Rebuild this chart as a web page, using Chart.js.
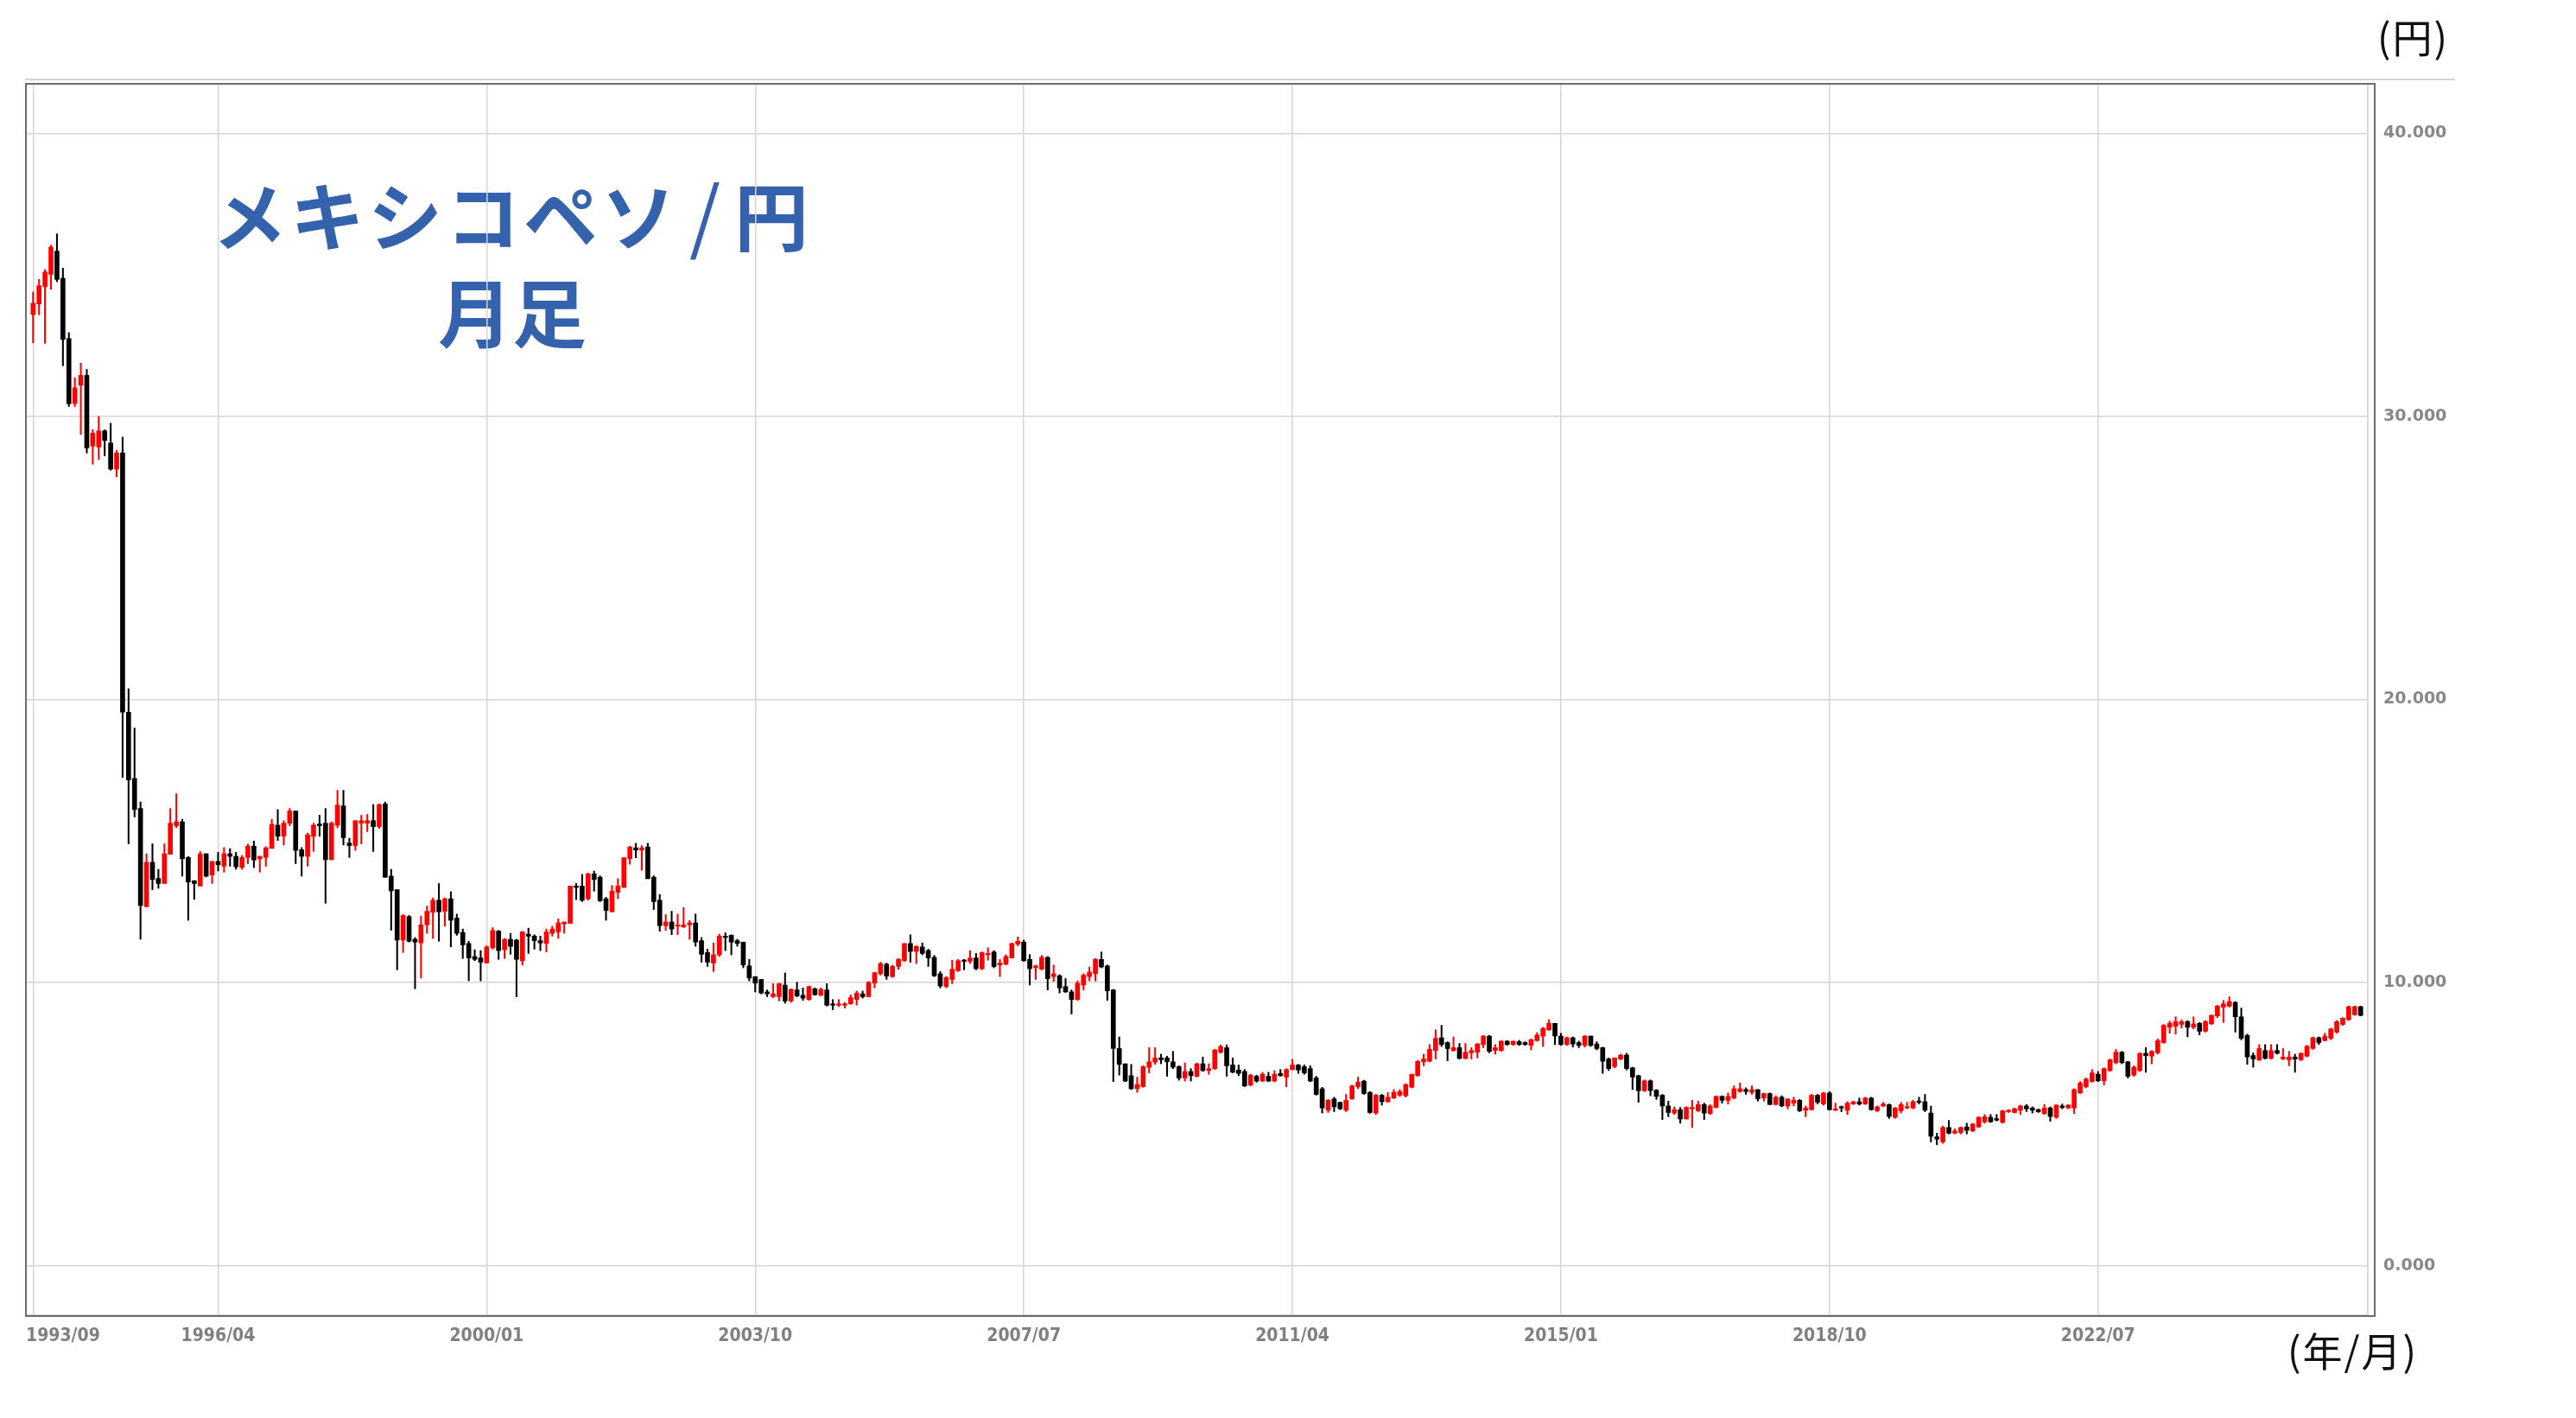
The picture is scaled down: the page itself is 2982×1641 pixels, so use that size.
<!DOCTYPE html>
<html lang="ja">
<head>
<meta charset="utf-8">
<title>メキシコペソ/円 月足</title>
<script src="https://cdn.jsdelivr.net/npm/chart.js@4.4.1/dist/chart.umd.min.js"></script>
<style>
  html, body { margin: 0; padding: 0; background: #fff; }
  #wrap { position: relative; width: 2982px; height: 1641px; overflow: hidden; }
  #wrap canvas { position: absolute; left: 0; top: 0; z-index: 2; }
  .jp { position: absolute; font-family: "Noto Sans CJK JP", sans-serif; white-space: nowrap; }
  #title { z-index: 1; left: 143px; top: 188px; width: 900px; text-align: center; color: #3462ac; font-weight: bold; font-size: 86px; line-height: 112px; }
  #title .l1 { letter-spacing: 4px; }
  #title .sl { font-weight: 400; font-size: 92px; margin: 0 12px; }
  #unitY { z-index: 3; left: 2752px; top: 18px; font-size: 46px; line-height: 46px; letter-spacing: 2px; color: #111; }
  #unitX { z-index: 3; left: 2648px; top: 1538px; font-size: 46px; line-height: 46px; letter-spacing: 2px; color: #111; }
</style>
</head>
<body>
<div id="wrap">
  <div class="jp" id="title"><span class="l1">メキシコペソ<span class="sl">/</span>円</span><br>月足</div>
  <canvas id="c" width="2982" height="1641"></canvas>
  <div class="jp" id="unitY">(円)</div>
  <div class="jp" id="unitX">(年/月)</div>
</div>
<script>
/* メキシコペソ/円 月足ローソク足 (1993/09 - 2026/03) */
(function () {
  "use strict";

  // x軸目盛り: 先頭月(1993/09)からの月数とラベル
  const tickIdx = [0, 31, 76, 121, 166, 211, 256, 301, 346];
  const tickLabels = ["1993/09", "1996/04", "2000/01", "2003/10", "2007/07", "2011/04", "2015/01", "2018/10", "2022/07"];
  const yTicks = [0, 10, 20, 30, 40];

  // 始値・高値・安値・終値 (円)
  const openP = [
    33.6, 33.97, 34.58, 35.02, 35.84, 34.88, 32.75, 30.45, 31.1, 31.45, 28.95, 28.92, 29.49, 29.06, 28.14, 28.71, 19.55, 17.21, 16.15, 12.68,
    14.25, 13.68, 13.5, 14.53, 15.54, 15.68, 14.42, 13.6, 13.41, 14.55, 13.8, 14.28, 14.11, 14.55, 14.46, 14.07, 14.42, 14.82, 14.37, 14.42,
    14.74, 15.56, 15.17, 15.63, 16.06, 14.69, 14.46, 15.16, 15.6, 15.63, 14.34, 15.56, 16.24, 14.93, 14.84, 15.63, 15.63, 15.72, 15.51, 16.31,
    13.76, 13.28, 11.5, 12.33, 11.53, 11.4, 12.04, 12.48, 12.91, 12.52, 12.96, 12.28, 11.77, 11.38, 10.92, 10.87, 10.69, 11.23, 11.82, 11.16,
    11.53, 11.5, 10.77, 11.71, 11.64, 11.48, 11.38, 11.74, 11.79, 12.07, 12.09, 13.41, 13.41, 12.96, 13.84, 13.72, 12.96, 12.5, 13.19, 13.36,
    14.38, 14.76, 14.68, 14.79, 13.72, 12.91, 12.01, 12.14, 11.99, 11.97, 12.04, 12.11, 11.48, 11.06, 10.69, 10.98, 11.64, 11.67, 11.48, 11.43,
    10.59, 10.21, 10.11, 9.67, 9.5, 9.5, 9.91, 9.35, 9.74, 9.55, 9.4, 9.78, 9.55, 9.74, 9.23, 9.2, 9.2, 9.25, 9.4, 9.6,
    9.5, 9.98, 10.31, 10.65, 10.21, 10.57, 10.77, 11.38, 11.1, 11.26, 11.13, 10.89, 10.31, 9.86, 10.11, 10.42, 10.79, 10.75, 10.87, 10.49,
    10.98, 11.08, 10.62, 10.65, 10.87, 11.36, 11.43, 10.82, 10.52, 10.47, 10.89, 10.21, 10.24, 9.86, 9.67, 9.4, 9.91, 10.21, 10.31, 10.82,
    10.59, 9.74, 7.67, 7.13, 6.71, 6.25, 6.32, 7.01, 7.19, 7.34, 7.34, 7.2, 7.03, 6.63, 6.86, 6.69, 7.13, 6.89, 6.96, 7.54,
    7.7, 7.09, 6.91, 6.86, 6.38, 6.69, 6.52, 6.69, 6.52, 6.79, 6.66, 6.93, 7.09, 7.03, 6.96, 6.63, 6.25, 5.49, 5.89, 5.77,
    5.49, 5.89, 6.32, 6.52, 6.12, 5.39, 6.02, 5.79, 5.92, 6.02, 6.0, 6.3, 6.71, 7.2, 7.22, 7.6, 8.05, 7.88, 7.6, 7.7,
    7.32, 7.52, 7.54, 7.81, 8.11, 7.6, 7.6, 7.93, 7.81, 7.91, 7.88, 7.78, 7.95, 8.11, 8.33, 8.56, 8.11, 7.81, 8.05, 7.88,
    7.78, 8.11, 7.83, 7.7, 7.3, 7.03, 7.3, 7.44, 6.99, 6.71, 6.18, 6.53, 6.2, 6.02, 5.64, 5.39, 5.51, 5.18, 5.54, 5.47,
    5.69, 5.37, 5.59, 5.98, 5.84, 5.92, 6.15, 6.22, 6.12, 6.22, 5.92, 6.08, 5.69, 5.95, 5.64, 5.74, 5.84, 5.49, 5.51, 6.02,
    5.71, 6.1, 5.49, 5.59, 5.49, 5.71, 5.79, 5.71, 5.92, 5.47, 5.64, 5.69, 5.24, 5.47, 5.57, 5.57, 5.81, 5.79, 5.39, 4.55,
    4.37, 4.88, 4.68, 4.7, 4.9, 4.76, 4.9, 5.08, 5.24, 5.19, 5.06, 5.44, 5.41, 5.49, 5.64, 5.57, 5.51, 5.37, 5.57, 5.24,
    5.64, 5.57, 5.57, 6.1, 6.32, 6.5, 6.76, 6.53, 6.89, 7.17, 7.54, 7.2, 6.73, 6.89, 7.5, 7.4, 7.52, 7.88, 8.42, 8.46,
    8.52, 8.62, 8.42, 8.56, 8.28, 8.54, 8.82, 9.13, 9.17, 9.3, 8.79, 8.13, 7.42, 7.27, 7.6, 7.32, 7.6, 7.3, 7.27, 7.37,
    7.27, 7.4, 7.67, 8.05, 7.95, 8.03, 8.25, 8.52, 8.69, 8.86, 9.15
  ];
  const highP = [
    34.4, 34.84, 35.19, 36.05, 36.45, 35.24, 32.96, 31.36, 31.88, 31.66, 29.53, 30.0, 29.53, 29.76, 28.8, 29.27, 20.38, 18.99, 16.38, 14.55,
    14.9, 14.0, 14.9, 16.15, 16.67, 15.77, 14.45, 13.6, 14.63, 14.55, 14.28, 14.6, 14.77, 14.73, 14.6, 14.49, 14.89, 15.0, 14.46, 14.8,
    15.77, 16.11, 15.72, 16.15, 16.06, 14.77, 15.28, 15.63, 15.91, 16.15, 15.68, 16.79, 16.79, 15.1, 15.72, 15.91, 15.94, 16.29, 16.31, 16.38,
    14.0, 13.28, 12.4, 12.37, 11.59, 12.35, 12.7, 12.99, 13.5, 12.99, 13.21, 12.42, 11.89, 11.46, 11.16, 11.13, 11.3, 11.94, 11.84, 11.56,
    11.74, 11.53, 11.81, 11.92, 11.69, 11.64, 11.89, 11.99, 12.25, 12.14, 13.41, 13.5, 13.82, 13.87, 13.94, 13.77, 13.01, 13.43, 13.67, 14.41,
    14.82, 14.92, 14.84, 14.92, 13.77, 13.11, 12.4, 12.52, 12.42, 12.65, 12.19, 12.42, 11.59, 11.18, 11.4, 11.71, 11.76, 11.69, 11.53, 11.43,
    10.82, 10.21, 10.11, 9.74, 9.96, 9.98, 10.34, 9.78, 10.01, 9.81, 9.88, 9.81, 9.81, 9.96, 9.4, 9.4, 9.3, 9.57, 9.7, 9.7,
    10.04, 10.37, 10.72, 10.69, 10.62, 10.85, 11.38, 11.69, 11.3, 11.4, 11.18, 10.96, 10.39, 10.21, 10.79, 10.82, 10.82, 11.13, 11.03, 11.08,
    11.23, 11.13, 10.82, 10.98, 11.4, 11.61, 11.5, 10.99, 10.62, 10.96, 10.92, 10.62, 10.28, 10.14, 9.74, 10.06, 10.31, 10.55, 10.85, 11.08,
    10.62, 9.76, 8.08, 7.13, 7.11, 6.66, 7.06, 7.7, 7.7, 7.47, 7.4, 7.57, 7.06, 7.16, 6.96, 7.16, 7.37, 7.13, 7.64, 7.8,
    7.8, 7.34, 7.09, 6.93, 6.76, 6.73, 6.83, 6.83, 6.89, 6.93, 6.96, 7.29, 7.11, 7.09, 7.06, 6.69, 6.3, 5.87, 5.95, 5.77,
    6.05, 6.38, 6.66, 6.55, 6.15, 6.05, 6.05, 6.12, 6.22, 6.22, 6.42, 6.76, 7.24, 7.47, 7.81, 8.33, 8.49, 7.91, 8.08, 7.85,
    7.85, 7.7, 7.85, 8.13, 8.13, 7.81, 7.95, 7.95, 7.93, 7.96, 7.91, 8.01, 8.23, 8.42, 8.69, 8.56, 8.21, 8.08, 8.08, 7.93,
    8.13, 8.11, 7.91, 7.72, 7.34, 7.34, 7.47, 7.5, 7.01, 6.73, 6.56, 6.56, 6.22, 6.05, 5.81, 5.61, 5.59, 5.61, 5.84, 5.81,
    5.74, 5.69, 6.0, 6.0, 6.1, 6.35, 6.45, 6.28, 6.35, 6.22, 6.1, 6.1, 6.0, 6.0, 5.89, 5.95, 5.87, 5.64, 6.05, 6.05,
    6.12, 6.15, 5.74, 5.64, 5.79, 5.81, 5.92, 5.95, 5.95, 5.64, 5.77, 5.71, 5.59, 5.77, 5.77, 5.84, 5.95, 6.05, 5.64, 4.68,
    4.93, 5.13, 4.83, 4.9, 5.03, 5.03, 5.26, 5.34, 5.34, 5.34, 5.49, 5.51, 5.57, 5.67, 5.69, 5.61, 5.54, 5.69, 5.61, 5.69,
    5.71, 5.69, 6.25, 6.5, 6.63, 6.93, 6.86, 6.99, 7.3, 7.64, 7.57, 7.22, 7.06, 7.52, 7.7, 7.6, 8.01, 8.52, 8.64, 8.79,
    8.69, 8.66, 8.79, 8.59, 8.66, 8.86, 9.2, 9.37, 9.5, 9.33, 9.1, 8.18, 7.52, 7.81, 7.81, 7.81, 7.81, 7.67, 7.57, 7.47,
    7.52, 7.78, 8.08, 8.08, 8.21, 8.39, 8.66, 8.76, 9.17, 9.17, 9.17
  ];
  const lowP = [
    32.6, 33.59, 32.58, 34.49, 34.76, 31.79, 30.35, 30.35, 29.36, 28.71, 28.31, 28.48, 28.61, 28.1, 27.87, 17.25, 14.9, 15.85, 11.53, 12.68,
    13.28, 13.33, 13.5, 14.53, 15.47, 13.76, 12.2, 12.94, 13.41, 13.73, 13.5, 13.94, 13.9, 14.11, 14.0, 14.0, 14.2, 14.06, 13.9, 14.11,
    14.74, 15.02, 14.86, 15.54, 14.2, 13.76, 14.11, 14.63, 15.17, 12.8, 14.34, 15.47, 14.86, 14.42, 14.67, 14.9, 15.33, 14.63, 15.45, 13.72,
    11.85, 10.45, 11.06, 11.43, 9.78, 10.16, 11.74, 11.56, 11.46, 11.99, 11.26, 11.67, 10.85, 10.06, 10.77, 10.06, 10.69, 11.18, 10.82, 10.85,
    11.0, 9.5, 10.62, 11.03, 11.18, 11.13, 11.08, 11.64, 11.56, 11.74, 12.09, 12.93, 12.86, 12.91, 13.23, 12.86, 12.2, 12.5, 12.96, 13.36,
    14.18, 14.41, 13.97, 13.67, 12.58, 11.81, 11.84, 11.69, 11.69, 11.94, 11.53, 11.28, 10.72, 10.57, 10.39, 10.92, 11.13, 10.98, 11.28, 10.52,
    10.06, 9.67, 9.6, 9.5, 9.47, 9.35, 9.27, 9.3, 9.5, 9.37, 9.37, 9.55, 9.53, 9.17, 9.04, 9.15, 9.1, 9.23, 9.2, 9.45,
    9.5, 9.81, 10.26, 10.11, 10.18, 10.47, 10.75, 10.72, 10.67, 10.98, 10.57, 10.21, 9.81, 9.81, 9.96, 10.39, 10.45, 10.67, 10.45, 10.45,
    10.79, 10.52, 10.21, 10.62, 10.87, 11.3, 10.75, 9.91, 10.11, 10.45, 9.74, 10.04, 9.63, 9.65, 8.89, 9.37, 9.74, 10.06, 10.06, 10.52,
    9.37, 6.5, 6.73, 6.5, 6.22, 6.12, 6.3, 6.81, 7.11, 7.13, 6.69, 6.96, 6.55, 6.52, 6.52, 6.66, 6.86, 6.76, 6.93, 7.5,
    6.69, 6.81, 6.71, 6.32, 6.35, 6.48, 6.5, 6.5, 6.5, 6.69, 6.32, 6.91, 6.79, 6.76, 6.5, 6.02, 5.39, 5.41, 5.44, 5.51,
    5.44, 5.87, 6.25, 6.05, 5.38, 5.34, 5.67, 5.77, 5.9, 5.98, 5.95, 6.28, 6.69, 7.06, 7.2, 7.3, 7.74, 7.24, 7.57, 7.3,
    7.3, 7.3, 7.34, 7.7, 7.52, 7.47, 7.57, 7.78, 7.78, 7.78, 7.78, 7.62, 7.93, 7.74, 8.31, 7.81, 7.78, 7.78, 7.72, 7.7,
    7.72, 7.74, 7.62, 6.79, 6.89, 6.99, 7.27, 6.91, 6.22, 5.77, 6.15, 6.0, 5.87, 5.16, 5.26, 5.34, 5.03, 5.18, 4.88, 5.44,
    5.16, 5.34, 5.57, 5.74, 5.71, 5.89, 6.12, 6.05, 6.05, 5.81, 5.81, 5.69, 5.67, 5.61, 5.54, 5.64, 5.44, 5.26, 5.49, 5.71,
    5.67, 5.49, 5.47, 5.44, 5.34, 5.69, 5.67, 5.69, 5.49, 5.44, 5.61, 5.2, 5.2, 5.39, 5.54, 5.54, 5.71, 5.44, 4.37, 4.27,
    4.32, 4.65, 4.65, 4.65, 4.65, 4.73, 4.88, 5.03, 5.06, 5.11, 5.03, 5.41, 5.39, 5.34, 5.44, 5.39, 5.41, 5.34, 5.1, 5.2,
    5.54, 5.54, 5.37, 6.08, 6.28, 6.48, 6.5, 6.38, 6.86, 7.13, 7.13, 6.63, 6.69, 6.86, 6.83, 7.13, 7.47, 7.85, 8.21, 8.18,
    8.39, 8.08, 8.36, 8.15, 8.25, 8.52, 8.76, 8.59, 9.13, 8.25, 7.98, 7.11, 7.01, 7.24, 7.3, 7.3, 7.47, 7.27, 7.06, 6.83,
    7.24, 7.37, 7.64, 7.81, 7.93, 7.98, 8.21, 8.49, 8.66, 8.84, 8.82
  ];
  const closeP = [
    34.0, 34.62, 35.1, 35.98, 34.84, 32.72, 30.45, 31.01, 31.45, 28.89, 29.41, 29.49, 29.15, 28.14, 28.71, 19.55, 17.16, 16.11, 12.72, 14.25,
    13.64, 13.5, 14.55, 15.63, 15.68, 14.37, 13.55, 13.5, 14.55, 13.76, 14.28, 14.16, 14.55, 14.46, 14.09, 14.42, 14.82, 14.33, 14.46, 14.76,
    15.59, 15.17, 15.63, 16.06, 14.67, 14.46, 15.22, 15.56, 15.54, 14.34, 15.63, 16.27, 15.12, 14.84, 15.72, 15.72, 15.72, 15.51, 16.29, 13.72,
    13.24, 11.5, 12.37, 11.46, 11.43, 12.04, 12.52, 12.91, 12.5, 12.96, 12.2, 11.74, 11.33, 10.87, 10.82, 10.72, 11.26, 11.84, 11.13, 11.53,
    11.28, 10.82, 11.79, 11.64, 11.48, 11.4, 11.79, 11.89, 12.11, 12.14, 13.41, 13.36, 12.91, 13.84, 13.64, 12.89, 12.55, 13.23, 13.41, 14.41,
    14.79, 14.68, 14.76, 13.67, 12.86, 12.01, 12.14, 11.89, 12.04, 12.04, 12.11, 11.43, 11.0, 10.72, 10.98, 11.64, 11.59, 11.43, 11.38, 10.62,
    10.16, 9.98, 9.63, 9.6, 9.6, 9.96, 9.35, 9.76, 9.53, 9.45, 9.86, 9.57, 9.76, 9.2, 9.2, 9.25, 9.25, 9.47, 9.63, 9.5,
    10.01, 10.35, 10.67, 10.23, 10.57, 10.82, 11.38, 11.1, 11.28, 11.03, 10.87, 10.24, 9.88, 10.18, 10.47, 10.77, 10.75, 10.87, 10.49, 11.06,
    11.03, 10.57, 10.69, 10.92, 11.38, 11.46, 10.77, 10.49, 10.59, 10.89, 10.14, 10.31, 9.81, 9.67, 9.4, 9.98, 10.26, 10.37, 10.82, 10.55,
    9.71, 7.67, 7.11, 6.52, 6.25, 6.4, 7.03, 7.2, 7.34, 7.27, 7.2, 7.01, 6.63, 6.86, 6.71, 7.13, 6.89, 6.96, 7.62, 7.74,
    7.06, 6.83, 6.79, 6.35, 6.73, 6.52, 6.76, 6.52, 6.76, 6.71, 6.93, 7.09, 6.91, 6.81, 6.52, 6.05, 5.57, 5.84, 5.61, 5.54,
    5.84, 6.35, 6.48, 6.08, 5.41, 6.02, 5.79, 5.95, 6.12, 6.15, 6.4, 6.76, 7.22, 7.3, 7.64, 8.03, 7.81, 7.67, 7.7, 7.32,
    7.54, 7.6, 7.83, 8.11, 7.57, 7.7, 7.93, 7.81, 7.93, 7.81, 7.81, 7.98, 8.15, 8.38, 8.56, 8.11, 7.81, 8.05, 7.83, 7.78,
    8.11, 7.78, 7.67, 7.22, 6.96, 7.34, 7.44, 6.96, 6.66, 6.18, 6.53, 6.18, 5.98, 5.64, 5.41, 5.51, 5.18, 5.59, 5.59, 5.69,
    5.39, 5.64, 5.98, 5.84, 5.98, 6.25, 6.25, 6.15, 6.22, 5.89, 6.08, 5.69, 5.95, 5.64, 5.89, 5.84, 5.47, 5.57, 6.02, 5.77,
    6.1, 5.51, 5.54, 5.57, 5.74, 5.79, 5.71, 5.92, 5.51, 5.61, 5.71, 5.27, 5.57, 5.69, 5.61, 5.79, 5.77, 5.49, 4.57, 4.47,
    4.88, 4.68, 4.76, 4.88, 4.78, 5.0, 5.24, 5.26, 5.08, 5.14, 5.47, 5.49, 5.54, 5.64, 5.54, 5.49, 5.44, 5.57, 5.27, 5.67,
    5.59, 5.67, 6.22, 6.45, 6.59, 6.81, 6.53, 6.96, 7.27, 7.54, 7.17, 6.69, 7.01, 7.5, 7.42, 7.57, 7.95, 8.49, 8.56, 8.62,
    8.62, 8.42, 8.54, 8.28, 8.62, 8.84, 9.17, 9.25, 9.33, 8.79, 8.03, 7.37, 7.3, 7.67, 7.32, 7.6, 7.5, 7.37, 7.37, 7.3,
    7.5, 7.75, 8.05, 7.88, 8.11, 8.36, 8.62, 8.74, 9.15, 9.15, 8.84
  ];

  const UP = "#ff0000", DOWN = "#000000", GRID = "#d6d6d6";
  const X_MIN = -1.2, X_MAX = 391.2;
  const barColor = openP.map((o, i) => closeP[i] >= o ? UP : DOWN);
  const bodies = openP.map((o, i) => ({ x: i, y: [o, closeP[i]] }));
  const wicks = openP.map((o, i) => ({ x: i, y: [lowP[i], highP[i]] }));

  // 先頭ラベルは軸の左端から左揃え、最初の月には線だけ、右端にも線だけ
  const xTickVals = [X_MIN].concat(tickIdx, [X_MAX]);
  const xTickText = [tickLabels[0], ""].concat(tickLabels.slice(1), [""]);

  // 外枠と上部の区切り線
  const framePlugin = {
    id: "frame",
    afterDraw(c) {
      const a = c.chartArea, g = c.ctx;
      g.save();
      g.strokeStyle = "#a9a9a9"; g.lineWidth = 1.2;
      g.beginPath(); g.moveTo(a.left - 1, a.top - 5); g.lineTo(a.right + 101, a.top - 5); g.stroke();
      g.strokeStyle = "#6c6c6c"; g.lineWidth = 2;
      g.strokeRect(a.left, a.top, a.right - a.left + 8, a.bottom - a.top + 1);
      g.restore();
    }
  };

  new Chart(document.getElementById("c"), {
    type: "bar",
    data: {
      datasets: [
        { label: "body", data: bodies, backgroundColor: barColor, barThickness: 5, minBarLength: 1.5, grouped: false, order: 1 },
        { label: "wick", data: wicks, backgroundColor: barColor, barThickness: 1.4, grouped: false, order: 2 }
      ]
    },
    options: {
      responsive: false,
      devicePixelRatio: 1,
      animation: false,
      layout: { padding: { left: 30, top: 97, right: 0, bottom: 0 } },
      plugins: { legend: { display: false }, tooltip: { enabled: false }, title: { display: false } },
      scales: {
        x: {
          type: "linear", min: X_MIN, max: X_MAX, offset: false,
          grid: { color: GRID, lineWidth: 1.5, drawTicks: false, offset: false },
          border: { display: true, color: GRID, width: 1.5 },
          afterBuildTicks: s => { s.ticks = xTickVals.map(v => ({ value: v })); },
          afterFit: s => { s.height = 119; },
          ticks: {
            autoSkip: false, maxRotation: 0, align: "inner", padding: 12, color: "#808080",
            font: { family: "'DejaVu Sans Condensed', 'DejaVu Sans', sans-serif", weight: "bold", size: 21 },
            callback: (v, i) => xTickText[i] || ""
          }
        },
        y: {
          type: "linear", position: "right", min: -1.75, max: 41.75,
          grid: { color: GRID, lineWidth: 1.5, drawTicks: false },
          border: { display: true, color: GRID, width: 1.5 },
          afterBuildTicks: s => { s.ticks = yTicks.map(v => ({ value: v })); },
          afterFit: s => { s.width = 241; },
          ticks: {
            padding: 18, color: "#888888",
            font: { family: "'DejaVu Sans', sans-serif", weight: "bold", size: 19 },
            callback: v => v.toFixed(3)
          }
        }
      }
    },
    plugins: [framePlugin]
  });
})();
</script>
</body>
</html>
